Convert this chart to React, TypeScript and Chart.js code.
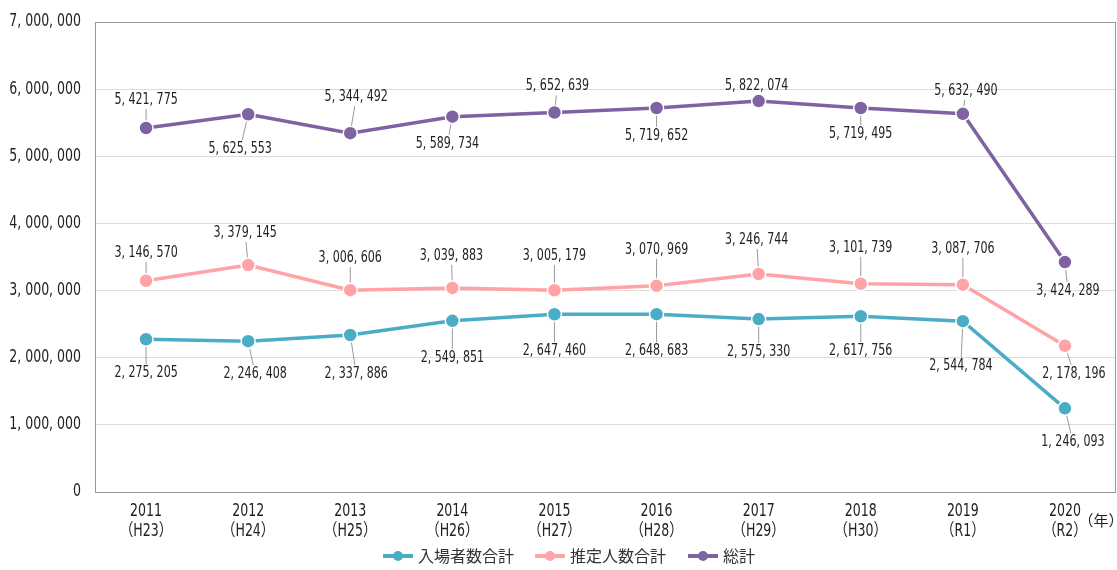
import React, { useEffect, useRef } from "react";
import { Chart, registerables } from "chart.js";

Chart.register(...registerables);

const years = ["2011", "2012", "2013", "2014", "2015", "2016", "2017", "2018", "2019", "2020"];
const eras = ["（H23）", "（H24）", "（H25）", "（H26）", "（H27）", "（H28）", "（H29）", "（H30）", "（R1）", "（R2）"];

const admissions = [2275205, 2246408, 2337886, 2549851, 2647460, 2648683, 2575330, 2617756, 2544784, 1246093];
const estimated = [3146570, 3379145, 3006606, 3039883, 3005179, 3070969, 3246744, 3101739, 3087706, 2178196];
const total = [5421775, 5625553, 5344492, 5589734, 5652639, 5719652, 5822074, 5719495, 5632490, 3424289];

const seriesNames = ["入場者数合計", "推定人数合計", "総計"];
const yTicks = [0, 1000000, 2000000, 3000000, 4000000, 5000000, 6000000, 7000000];
const unitLabel = "（年）";

// label offsets (relative to point) for data labels
const admissionsLabelOffset = [[0, 34], [7, 33], [6, 39], [0, 37], [0, 37], [0, 37], [0, 33], [0, 35], [-2, 45], [8, 34]];
const estimatedLabelOffset = [[0, -28], [-3, -32], [0, -32], [-1, -32], [0, -34], [0, -36], [-2, -34], [0, -36], [0, -36], [9, 28]];
const totalLabelOffset = [[0, -28], [-8, 35], [6, -36], [-5, 27], [3, -26], [0, 28], [-2, -15], [0, 26], [3, -23], [3, 29]];

const COLORS = ["#4bacc6", "#ffa3a6", "#7f62a1"];
const NUM_FONT = '"DejaVu Sans Condensed", "Noto Sans CJK JP", sans-serif';
const CJK_FONT = '"Noto Sans CJK JP", "Noto Sans", sans-serif';
const SX = 0.82;

const fmt = (n: number) => n.toLocaleString("en-US").replace(/,/g, ", ");

const offsets = [admissionsLabelOffset, estimatedLabelOffset, totalLabelOffset];

function drawText(ctx: any, text: string, x: number, y: number, font: string, align: string, sx: number) {
  ctx.save();
  ctx.font = font;
  ctx.textAlign = align;
  ctx.textBaseline = "middle";
  ctx.translate(x, y);
  ctx.scale(sx, 1);
  ctx.fillText(text, 0, 0);
  ctx.restore();
}

const labelPlugin = {
  id: "dataLabels",
  beforeDatasetsDraw(chart: any) {
    const ctx = chart.ctx;
    ctx.save();
    ctx.strokeStyle = "#9a9a9a";
    ctx.lineWidth = 1;
    chart.data.datasets.forEach((ds: any, di: number) => {
      const meta = chart.getDatasetMeta(di);
      meta.data.forEach((pt: any, i: number) => {
        const [dx, dy] = offsets[di][i];
        const ly = pt.y + dy;
        const endY = dy < 0 ? ly + 9 : ly - 9;
        const t = (endY - pt.y) / dy;
        const endX = pt.x + dx * t;
        if (Math.abs(endY - pt.y) > 6) {
          ctx.beginPath();
          ctx.moveTo(pt.x, pt.y);
          ctx.lineTo(endX, endY);
          ctx.stroke();
        }
      });
    });
    ctx.restore();
  },
  afterDatasetsDraw(chart: any) {
    const ctx = chart.ctx;
    ctx.save();
    ctx.fillStyle = "#222";
    chart.data.datasets.forEach((ds: any, di: number) => {
      const meta = chart.getDatasetMeta(di);
      meta.data.forEach((pt: any, i: number) => {
        const [dx, dy] = offsets[di][i];
        drawText(ctx, fmt(ds.data[i]), pt.x + dx, pt.y + dy, `15px ${NUM_FONT}`, "center", SX);
      });
    });
    ctx.restore();
  },
};

const framePlugin = {
  id: "frame",
  afterDraw(chart: any) {
    const { ctx, chartArea } = chart;
    ctx.save();
    ctx.strokeStyle = "#999999";
    ctx.lineWidth = 1;
    ctx.strokeRect(Math.round(chartArea.left) + 0.5, Math.round(chartArea.top) + 0.5,
      Math.round(chartArea.right - chartArea.left) - 1, Math.round(chartArea.bottom - chartArea.top));
    ctx.fillStyle = "#222";
    // y ticks
    const ys = chart.scales.y;
    yTicks.forEach((v) => {
      drawText(ctx, fmt(v), chartArea.left - 14, ys.getPixelForValue(v), `17px ${NUM_FONT}`, "right", SX);
    });
    // x ticks
    const xs = chart.scales.x;
    years.forEach((y, i) => {
      const px = xs.getPixelForValue(i);
      drawText(ctx, y, px, chartArea.bottom + 20, `17px ${NUM_FONT}`, "center", SX);
      drawText(ctx, eras[i], px, chartArea.bottom + 40, `17px ${NUM_FONT}`, "center", SX);
    });
    // unit label
    drawText(ctx, unitLabel, 1101, 520, `15px ${CJK_FONT}`, "center", 1);
    // legend
    const legendX = [383, 535, 688];
    const ly = 556;
    seriesNames.forEach((name, i) => {
      const x = legendX[i];
      ctx.strokeStyle = COLORS[i];
      ctx.lineWidth = 4;
      ctx.beginPath();
      ctx.moveTo(x, ly);
      ctx.lineTo(x + 30, ly);
      ctx.stroke();
      ctx.fillStyle = COLORS[i];
      ctx.beginPath();
      ctx.arc(x + 15, ly, 5, 0, Math.PI * 2);
      ctx.fill();
      ctx.fillStyle = "#333";
      drawText(ctx, name, x + 35, ly, `16px ${CJK_FONT}`, "left", 1);
    });
    ctx.restore();
  },
};

export default function App() {
  const ref = useRef<HTMLCanvasElement | null>(null);
  useEffect(() => {
    if (!ref.current) return;
    const mk = (label: string, data: number[], color: string) => ({
      label,
      data,
      borderColor: color,
      backgroundColor: color,
      borderWidth: 3.5,
      pointRadius: 7,
      pointBorderColor: "#ffffff",
      pointBorderWidth: 1.5,
      pointBackgroundColor: color,
      tension: 0,
    });
    const chart = new Chart(ref.current, {
      type: "line",
      data: {
        labels: years.map((y, i) => [y, eras[i]]),
        datasets: [
          mk(seriesNames[0], admissions, COLORS[0]),
          mk(seriesNames[1], estimated, COLORS[1]),
          mk(seriesNames[2], total, COLORS[2]),
        ],
      },
      options: {
        animation: false,
        responsive: false,
        maintainAspectRatio: false,
        layout: { autoPadding: false, padding: { top: 22, right: 1, bottom: 28, left: 0 } },
        plugins: { legend: { display: false }, tooltip: { enabled: false } },
        scales: {
          x: {
            offset: true,
            grid: { display: false },
            border: { display: false },
            afterFit: (s: any) => { s.height = 50; },
            ticks: { display: false },
          },
          y: {
            min: 0,
            max: 7000000,
            afterFit: (s: any) => { s.width = 95; },
            afterBuildTicks: (s: any) => { s.ticks = yTicks.map((v) => ({ value: v })); },
            grid: { color: "#dcdcdc", drawTicks: false },
            border: { display: false },
            ticks: { display: false },
          },
        },
      },
      plugins: [labelPlugin, framePlugin],
    });
    return () => chart.destroy();
  }, []);
  return (
    <div style={{ position: "fixed", left: 0, top: 0, width: 1117, height: 570, background: "#fff" }}>
      <canvas ref={ref} width={1117} height={570} style={{ width: 1117, height: 570 }} />
    </div>
  );
}
